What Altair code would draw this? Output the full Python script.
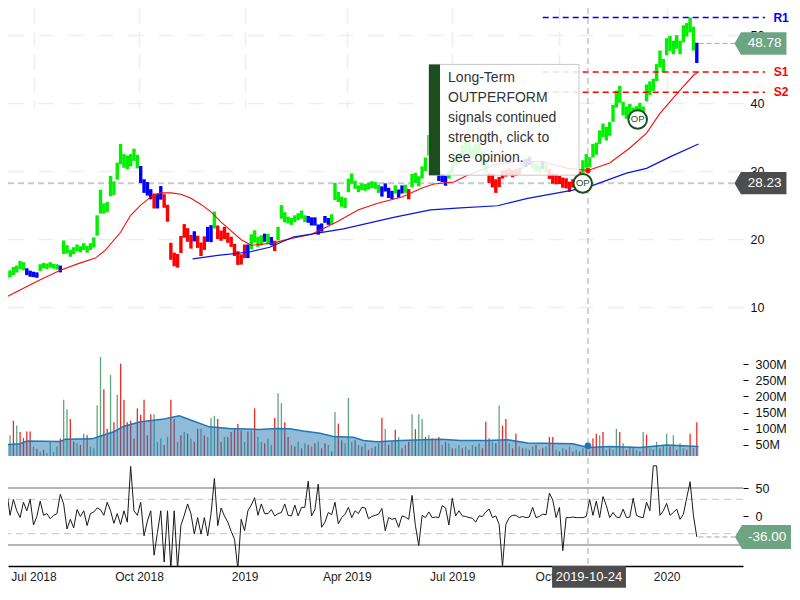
import altair as alt
import pandas as pd

FONT = "Liberation Sans"

# ---------- price bars (every second session) ----------
mids = [
14.4,14.2,14.6,14.9,15.3,15.6,16.2,16.0,15.2,14.9,
14.8,14.7,15.8,16.1,16.0,16.2,16.0,15.9,15.6,18.8,
18.5,17.9,18.3,18.7,18.5,18.9,18.5,18.9,19.5,22.0,
25.5,24.5,24.7,27.8,27.5,30.0,32.5,31.5,31.3,31.6,
32.4,31.4,29.5,27.8,27.4,26.6,25.6,25.6,26.8,25.6,
23.8,18.2,17.0,16.8,19.2,21.2,20.6,19.6,20.4,19.6,
18.5,19.4,20.7,20.8,22.8,21.0,20.5,20.9,20.2,19.6,
18.4,17.2,17.0,18.2,18.2,19.6,20.4,19.6,19.8,20.2,
20.0,19.7,19.0,20.8,24.0,23.2,22.8,22.6,23.0,23.3,
23.6,23.0,22.9,22.6,22.6,21.4,21.7,22.9,22.6,22.9,
27.0,26.2,25.5,25.3,27.9,28.9,28.0,27.4,27.7,27.6,
27.8,28.0,27.9,27.4,27.0,27.6,26.8,26.5,27.3,26.7,
27.3,27.4,26.6,28.6,29.0,28.5,29.8,31.0,33.8,32.5,
30.5,29.3,29.0,28.6,29.5,30.5,31.5,31.8,33.0,33.6,
33.4,32.6,33.2,33.4,32.0,30.8,29.0,28.6,27.8,28.4,
29.5,29.7,29.9,29.6,29.8,30.0,30.9,31.2,31.5,30.9,
30.5,30.3,30.9,30.4,29.6,28.9,28.8,28.7,28.3,28.2,
27.7,28.2,28.5,29.2,30.6,31.5,31.3,33.0,33.3,35.0,
36.0,35.5,36.2,38.5,40.6,41.3,39.2,38.6,39.0,38.6,
38.8,39.3,38.9,41.5,42.2,42.7,44.5,46.5,45.5,48.3,
48.8,48.2,49.0,48.2,50.2,50.8,51.5,49.5,47.4]

spans = [
1.0,0.8,1.0,1.0,1.2,1.0,1.2,1.2,1.0,0.9,
0.8,0.8,1.0,0.8,0.8,0.8,0.7,0.8,1.0,2.0,
1.2,1.0,1.0,1.0,0.9,1.0,1.0,1.0,1.5,3.0,
3.5,1.5,1.5,3.0,2.0,2.5,3.0,2.0,2.0,1.8,
1.8,2.0,2.5,2.0,2.0,1.5,2.2,2.2,2.0,2.0,
2.5,2.5,2.0,2.0,2.5,2.0,2.0,2.0,1.5,1.8,
2.0,2.0,2.2,2.5,2.5,2.0,1.5,1.8,1.5,1.5,
1.8,2.0,1.5,2.0,2.0,2.2,1.8,1.5,1.5,1.2,
1.5,1.2,1.5,2.0,2.0,1.5,1.0,1.0,1.0,1.0,
1.2,1.0,1.0,1.2,1.2,1.5,1.2,1.0,1.0,1.5,
2.5,1.5,1.5,1.5,2.0,1.5,1.2,1.0,1.0,1.0,
1.0,1.0,1.0,1.2,1.5,1.2,1.5,1.2,1.2,1.2,
1.2,1.2,1.5,2.0,1.5,1.5,1.8,2.0,3.0,2.0,
2.0,1.5,1.2,1.5,1.2,1.5,1.5,1.5,1.8,1.8,
1.5,1.5,1.5,1.5,2.0,2.0,1.5,2.0,2.0,1.5,
1.2,1.0,1.0,1.0,1.0,1.0,1.2,1.2,1.2,1.0,
1.2,1.0,1.2,1.2,1.5,1.5,1.5,1.2,1.5,1.5,
1.5,1.2,1.2,1.5,2.0,2.0,1.5,2.0,1.8,2.0,
2.0,2.0,2.0,2.5,2.5,2.5,2.0,1.8,1.8,1.5,
1.5,1.5,1.2,2.5,2.0,1.8,2.5,2.5,2.0,2.5,
2.2,2.0,2.0,2.0,2.5,2.0,2.2,3.5,2.98]

color_runs = [
("#00F000",8),("#0000FF",4),("#00F000",6),("#0000FF",1),("#00F000",23),("#0000FF",4),("#FF0000",1),("#0000FF",2),("#FF0000",9),("#0000FF",1),
("#FF0000",3),("#0000FF",2),("#00F000",1),("#FF0000",9),("#0000FF",1),("#00F000",4),("#0000FF",1),("#00F000",1),("#0000FF",1),("#FF0000",1),
("#00F000",9),("#0000FF",7),("#00F000",15),("#0000FF",4),("#00F000",1),("#0000FF",2),("#00F000",1),("#FF0000",1),("#00F000",8),("#0000FF",3),
("#00F000",12),("#FF0000",10),("#00F000",1),("#0000FF",2),("#00F000",3),("#0000FF",1),("#00F000",1),("#FF0000",10),("#00F000",34),("#0000FF",1)]

# ---------- moving averages on price ----------
red_ma_i = [0,12,24,36,48,57,63,72,78,84,90,96,102,108,114,120,126,132,138,144,150,163,174,186,201,214,226,240,252,259,271,279,295,311,325,339,351,364,376,386,394,406,414,417]
red_ma_v = [11.0,12.5,14.0,15.4,16.5,17.2,18.4,21.0,23.5,25.0,26.2,26.8,26.8,26.6,26.0,25.1,24.0,22.5,21.2,19.9,19.1,19.4,20.1,20.7,22.5,24.3,25.3,26.2,27.5,28.1,28.4,29.4,30.9,31.5,31.3,30.4,30.1,31.2,33.4,35.6,38.5,41.9,44.1,44.6]
blue_ma_i = [115,130,149,161,175,205,235,257,275,297,315,342,354,374,386,400,417]
blue_ma_v = [17.1,17.6,18.1,18.8,20.3,21.5,23.2,24.3,24.6,24.9,26.0,27.2,27.9,29.7,30.4,32.1,34.0]

# ---------- volume, millions (negative = down session) ----------
signed_volume = [
65,97,-99,80,-125,110,-90,-72,-92,-92,
45,-38,30,-35,25,60,28,45,-70,190,
160,-130,-60,55,-50,85,-80,45,40,173,
322,-222,-100,266,-120,205,-301,-190,-120,-125,
-70,-163,-143,-190,-80,-145,145,60,70,-50,
75,-190,-130,60,-80,90,-85,70,-60,-100,
100,-80,75,133,140,-130,-60,75,-75,-90,
-100,-115,-95,60,-92,95,-163,75,60,-55,
70,50,-133,210,179,-120,-75,50,-45,60,
-40,55,-50,45,-55,60,-40,-55,50,-30,
152,-116,-65,55,195,60,-65,50,-45,55,
-35,40,-45,55,-133,99,-50,60,-97,75,
-40,50,-60,145,-99,145,130,-75,80,-70,
65,-75,50,-60,55,-40,40,50,-40,45,
-35,50,-45,55,-40,-122,-70,60,-55,172,
-110,-130,55,-40,-85,45,-40,40,-35,45,
-50,35,-40,45,-75,-75,35,-30,40,-35,
45,-30,35,-30,40,-35,30,-70,-85,80,
-90,35,-40,35,100,-90,55,-35,45,-40,
35,-30,90,-82,40,-35,60,-40,50,85,
-45,80,-35,55,40,-35,-85,40,-120]
vol_ma_i = [0,12,16,36,39,55,60,68,74,84,98,107,115,125,137,155,165,173,181,191,199,211,217,225,239,263,275,291,303,315,342,351,364,382,398,417]
vol_ma_v = [50,54,62,61,68,69,78,91,108,122,130,140,125,106,101,98,101,100,93,86,76,74,64,60,64,68,64,64,66,56,54,42,45,42,50,45]

# ---------- oscillator ----------
oscillator = [
7,-2,45,2,30,10,-2,25,10,30,
-15,0,27,2,5,-4,2,5,39,22,
-22,-5,-20,12,0,10,-16,5,8,15,
12,2,25,10,-12,5,-14,10,-10,88,
10,2,25,-34,-8,10,-68,-28,10,-80,
10,-92,10,-92,-16,2,22,5,-31,-2,
-31,-2,-34,5,67,-16,15,1,-10,-26,
-40,-92,-5,-25,10,20,33,2,22,5,
5,12,1,5,7,22,2,1,20,1,
16,16,62,1,12,57,-19,-10,7,3,
25,-13,-2,4,16,-2,10,5,16,15,
-4,0,2,4,14,-25,-2,-5,-3,-19,
1,-1,-5,37,-16,-51,2,-2,8,-2,
-1,-2,19,15,-15,32,1,10,1,0,
-2,-3,-10,1,0,8,13,-2,1,-14,
-88,-14,-2,2,2,-2,0,-2,-1,16,
-2,0,4,3,41,29,-2,16,-60,-2,
-2,-1,-2,-2,-2,0,30,2,27,-2,
35,19,-2,7,-1,-2,13,-2,-1,32,
2,-1,-2,25,10,89,89,2,10,23,
2,7,13,-5,4,33,61,1,-36]

# ---------- axes and annotation values ----------
x_tick_sessions = [20,83,146,207,270,334,398]
x_tick_labels = ["Jul 2018","Oct 2018","2019","Apr 2019","Jul 2019","Oct 2019","2020"]
price_ticks = [10,20,30,40,50]
vol_ticks = [50e6,100e6,150e6,200e6,250e6,300e6]
osc_ticks = [50,0,-50]
tooltip_lines = ["Long-Term","OUTPERFORM","signals continued","strength, click to","see opinion."]
tooltip_line_prices = [43.7,40.7,37.8,34.9,32.0]
levels = ["R1","S1","S2"]
level_prices = [52.6,44.6,41.6]
level_colors = ["#0000FF","#FF0000","#FF0000"]

assert len(mids) == len(spans) == len(signed_volume) == len(oscillator) == 209

colors = []
for c, n in color_runs:
    colors += [c] * n
sessions = [2 * k for k in range(len(mids))]
prices = pd.DataFrame({"i": sessions, "low": [m - s / 2 for m, s in zip(mids, spans)],
                       "high": [m + s / 2 for m, s in zip(mids, spans)], "c": colors})
vols = pd.DataFrame({"i": sessions, "v": [abs(v) * 1e6 for v in signed_volume],
                     "c": ["#5FA57E" if v > 0 else "#EE2A24" for v in signed_volume]})
vols["base"] = 16e6
vol_ma = pd.DataFrame({"i": vol_ma_i, "v": [v * 1e6 for v in vol_ma_v]})
vol_ma["base"] = 16e6
osc = pd.DataFrame({"i": sessions, "v": oscillator})

x_scale = alt.Scale(domain=[4.776, 443.58], nice=False, zero=False)
price_scale = alt.Scale(domain=[0, 54], range=[367, 0], nice=False, zero=False)
vol_scale = alt.Scale(domain=[16e6, 330e6], range=[448, 346.3], nice=False, zero=False)
osc_scale = alt.Scale(domain=[-87, 89], range=[558, 457.8], nice=False, zero=False)

labels_js = "[" + ",".join(f"'{s}'" for s in x_tick_labels) + "]"
idx_js = "[" + ",".join(str(s) for s in x_tick_sessions) + "]"
GRID = "#eeeeee"
x_axis = alt.Axis(values=x_tick_sessions, labelExpr=f"{labels_js}[indexof({idx_js},datum.value)]",
                  title=None, grid=True, gridColor=GRID, gridWidth=1.5, gridDash=[15, 8], ticks=False,
                  domain=True, domainColor="#000", domainWidth=1.5, labelFont=FONT, labelFontSize=12,
                  labelColor="#222", labelPadding=5, labelOverlap=False, labelFlush=False)

X = lambda f="i": alt.X(f"{f}:Q", scale=x_scale, axis=x_axis)
P = lambda f="v": alt.Y(f"{f}:Q", scale=price_scale, axis=None)
V = lambda f="v": alt.Y(f"{f}:Q", scale=vol_scale, axis=None)
O = lambda f="v": alt.Y(f"{f}:Q", scale=osc_scale, axis=None)

one = lambda **kw: alt.Chart(pd.DataFrame([kw]))
layers = []

# axes + grids
layers.append(alt.Chart(osc).mark_line(opacity=0).encode(
    x=X(),
    y=alt.Y("v:Q", scale=osc_scale, axis=alt.Axis(values=osc_ticks, orient="right", title=None, grid=False,
        domain=False, tickColor="#000", tickSize=5, labelFont=FONT, labelFontSize=12.5, labelColor="#111",
        labelPadding=7))))
layers.append(one(i=0, v=30).mark_rule(opacity=0).encode(
    y=alt.Y("v:Q", scale=price_scale, axis=alt.Axis(values=price_ticks, orient="right", title=None, grid=True,
        gridColor=GRID, gridWidth=1.5, gridDash=[15, 15], domain=False, ticks=False, tickSize=0, labelFont=FONT,
        labelFontSize=12.5, labelColor="#111", labelPadding=7))))
layers.append(one(i=0, v=100e6).mark_rule(opacity=0).encode(
    y=alt.Y("v:Q", scale=vol_scale, axis=alt.Axis(values=vol_ticks, orient="right", title=None, grid=False,
        domain=False, tickColor="#000", tickSize=5, labelFont=FONT, labelFontSize=12.5, labelColor="#111",
        labelPadding=7, labelExpr="datum.value/1000000+'M'"))))

# current-value guide on price
layers.append(one(a=4.776, b=438.8, v=28.23).mark_rule(color="#c8c8c8", strokeWidth=2, strokeDash=[6, 4]).encode(
    x=X("a"), x2="b:Q", y=P()))
layers.append(one(a=417, b=438.8, v=48.78).mark_rule(color="#aaaaaa", strokeWidth=1, strokeDash=[5, 3]).encode(
    x=X("a"), x2="b:Q", y=P()))

# price bars
layers.append(alt.Chart(prices).mark_rule(strokeWidth=3.4).encode(
    x=X(), y=P("low"), y2="high:Q", color=alt.Color("c:N", scale=None)))

# moving averages
layers.append(alt.Chart(pd.DataFrame({"i": red_ma_i, "v": red_ma_v})).mark_line(color="#F01010", strokeWidth=1.1).encode(x=X(), y=P()))
layers.append(alt.Chart(pd.DataFrame({"i": blue_ma_i, "v": blue_ma_v})).mark_line(color="#0A14E0", strokeWidth=1.2).encode(x=X(), y=P()))

# support / resistance
lv = pd.DataFrame({"a": 324, "b": 456.7, "t": 466.3, "v": level_prices, "name": levels, "col": level_colors})
layers.append(alt.Chart(lv).mark_rule(strokeWidth=1.5, strokeDash=[6, 4]).encode(
    x=X("a"), x2="b:Q", y=P(), color=alt.Color("col:N", scale=None)))
layers.append(alt.Chart(lv).mark_text(font=FONT, fontSize=12, fontWeight="bold").encode(
    x=X("t"), y=P(), text="name:N", color=alt.Color("col:N", scale=None)))

# volume
layers.append(alt.Chart(vols).mark_rule(strokeWidth=1.3).encode(
    x=X(), y=V(), y2="base:Q", color=alt.Color("c:N", scale=None)))
layers.append(alt.Chart(vol_ma).mark_area(color="#1F77B4", fillOpacity=0.5, line={"color": "#1F77B4", "strokeWidth": 1.5}).encode(
    x=X(), y=V(), y2="base:Q"))

# oscillator
for val, col, w, dash in [(50, "#b4b4b4", 2, [1, 0]), (-50, "#b4b4b4", 2, [1, 0]), (30, "#cfcfcf", 1.2, [7, 5]), (-30, "#cfcfcf", 1.2, [7, 5])]:
    layers.append(one(v=val).mark_rule(color=col, strokeWidth=w, strokeDash=dash).encode(y=O()))
layers.append(alt.Chart(osc).mark_line(color="#1a1a1a", strokeWidth=1, clip=True).encode(x=X(), y=O()))
layers.append(one(a=417, b=438.8, v=-36).mark_rule(color="#aaaaaa", strokeWidth=1, strokeDash=[5, 3]).encode(
    x=X("a"), x2="b:Q", y=O()))

# crosshair
layers.append(one(i=351).mark_rule(color="#a8a8a8", strokeWidth=1, strokeDash=[6, 4]).encode(x=X()))
layers.append(one(i=351, v=47e6).mark_point(filled=True, color="#1F77B4", size=45, opacity=1).encode(x=X(), y=V()))
layers.append(one(i=351, v=30.1).mark_point(filled=True, color="#F01010", size=30, opacity=1).encode(x=X(), y=P()))

# tooltip
layers.append(one(a=256.1, b=345.7, v=45.7, w=29.4).mark_rect(fill="#ffffff", fillOpacity=0.86, stroke="#c8c8c8", strokeWidth=1).encode(
    x=X("a"), x2="b:Q", y=P("v"), y2="w:Q"))
layers.append(one(a=256.1, b=262.7, v=45.7, w=29.4).mark_rect(fill="#1B4D1F").encode(
    x=X("a"), x2="b:Q", y=P("v"), y2="w:Q"))
layers.append(alt.Chart(pd.DataFrame({"i": 267.5, "v": tooltip_line_prices, "t": tooltip_lines})).mark_text(
    font=FONT, fontSize=14, color="#333333", align="left", baseline="middle").encode(x=X(), y=P(), text="t:N"))

# OP markers
ops = pd.DataFrame({"i": [347.9, 380.7], "v": [28.2, 37.6], "t": ["OP", "OP"]})
layers.append(alt.Chart(ops).mark_point(shape="circle", size=346, fill="#ffffff", fillOpacity=1, stroke="#1B4D1F", strokeWidth=2, opacity=1).encode(x=X(), y=P()))
layers.append(alt.Chart(ops).mark_text(font=FONT, fontSize=9.5, color="#1B4D1F").encode(x=X(), y=P(), text="t:N"))

# right-hand value tags
TAG = "M-1,0 L-0.75,-0.43 L1,-0.43 L1,0.43 L-0.75,0.43 Z"
def tag(v, txt, col, yenc, i_center=454.0, size=2704):
    c = one(i=i_center, v=v, t=txt, j=i_center + 2.5)
    return [c.mark_point(shape=TAG, size=size, filled=True, color=col, opacity=1).encode(x=X(), y=yenc()),
            c.mark_text(font=FONT, fontSize=13.5, color="#ffffff").encode(x=X("j"), y=yenc(), text="t:N")]
layers += tag(48.78, "48.78", "#6DA583", P)
layers += tag(28.23, "28.23", "#4D4D4D", P)
layers += tag(-36, "-36.00", "#6DA583", O, i_center=455.5, size=3136)

# crosshair date tag
layers.append(one(a=329.6, b=373.7, v=-87, w=-125).mark_rect(fill="#4D4D4D").encode(
    x=X("a"), x2="b:Q", y=O("v"), y2="w:Q"))
layers.append(one(i=351.6, v=-106, t="2019-10-24").mark_text(font=FONT, fontSize=13, color="#ffffff").encode(
    x=X(), y=O(), text="t:N"))

chart = alt.layer(*layers).resolve_scale(y="independent").properties(
    width=735, height=558,
    padding={"left": 0, "top": 0, "right": 49, "bottom": 26},
    autosize=alt.AutoSizeParams(type="none"),
).configure_view(stroke=None)

chart.save("out.html", embed_options={"renderer": "svg", "actions": False})
